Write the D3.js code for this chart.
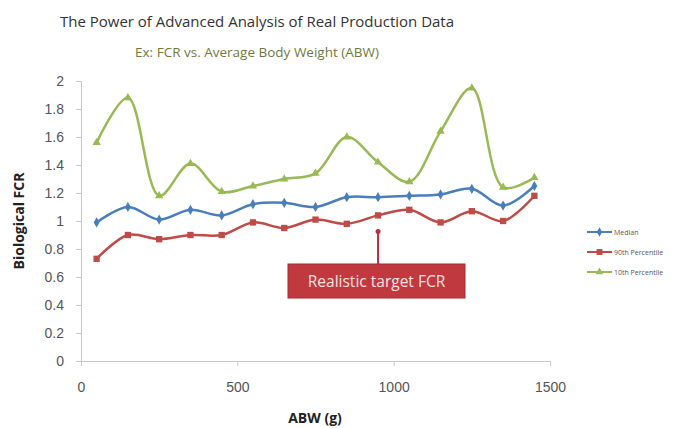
<!DOCTYPE html>
<html>
<head>
<meta charset="utf-8">
<script src="https://cdn.jsdelivr.net/npm/d3@7"></script>
<style>
  body { margin: 0; background: #fff; }
  svg { display: block; font-family: "Open Sans", "Liberation Sans", sans-serif; }
</style>
</head>
<body>
<svg id="chart"></svg>
<script>
// ABW values (g) for each point
const abw = [50, 150, 250, 350, 450, 550, 650, 750, 850, 950, 1050, 1150, 1250, 1350, 1450];

// FCR series
const median = [0.99, 1.10, 1.01, 1.08, 1.04, 1.12, 1.13, 1.10, 1.17, 1.17, 1.18, 1.19, 1.23, 1.11, 1.25];
const p90 = [0.73, 0.90, 0.87, 0.90, 0.90, 0.99, 0.95, 1.01, 0.98, 1.04, 1.08, 0.99, 1.07, 1.00, 1.18];
const p10 = [1.56, 1.88, 1.18, 1.41, 1.21, 1.25, 1.30, 1.34, 1.60, 1.42, 1.28, 1.64, 1.95, 1.24, 1.31];

const xTicks = [0, 500, 1000, 1500];
const yTicks = [0, 0.2, 0.4, 0.6, 0.8, 1, 1.2, 1.4, 1.6, 1.8, 2];

const seriesNames = ["Median", "90th Percentile", "10th Percentile"];
const seriesColors = ["#4a7ebb", "#be4b48", "#98b954"];
const seriesSymbols = [d3.symbolDiamond, d3.symbolSquare, d3.symbolTriangle];

const width = 684;
const height = 428;
const margin = { top: 81, right: 134, bottom: 67, left: 81 };

const svg = d3.select("#chart")
  .attr("width", width)
  .attr("height", height);

const xScale = d3.scaleLinear()
  .domain([0, 1500])
  .range([margin.left, width - margin.right]);

const yScale = d3.scaleLinear()
  .domain([0, 2])
  .range([height - margin.bottom, margin.top]);

// titles
svg.append("text")
  .attr("x", 257).attr("y", 27)
  .attr("text-anchor", "middle")
  .attr("font-size", 15)
  .attr("fill", "#333")
  .text("The Power of Advanced Analysis of Real Production Data");

svg.append("text")
  .attr("x", 257).attr("y", 57)
  .attr("text-anchor", "middle")
  .attr("font-size", 13.5)
  .attr("fill", "#6f7a3a")
  .text("Ex: FCR vs. Average Body Weight (ABW)");

// axes
const xAxis = svg.append("g")
  .attr("transform", `translate(0,${yScale(0)})`)
  .call(d3.axisBottom(xScale).tickValues(xTicks).tickSize(5).tickPadding(16).tickFormat(d3.format("d")));

const yAxis = svg.append("g")
  .attr("transform", `translate(${margin.left},0)`)
  .call(d3.axisLeft(yScale).tickValues(yTicks).tickSize(5).tickPadding(12).tickFormat(d => d3.format("~g")(d)));

[xAxis, yAxis].forEach(g => {
  g.select(".domain").attr("stroke", "#c8c8c8");
  g.selectAll(".tick line").attr("stroke", "#c8c8c8");
  g.selectAll(".tick text").attr("fill", "#555").attr("font-size", 14);
});

// axis titles
svg.append("text")
  .attr("transform", `translate(24,${yScale(1)}) rotate(-90)`)
  .attr("text-anchor", "middle")
  .attr("font-size", 14)
  .attr("font-weight", "bold")
  .attr("fill", "#222")
  .text("Biological FCR");

svg.append("text")
  .attr("x", 315).attr("y", 423)
  .attr("text-anchor", "middle")
  .attr("font-size", 14)
  .attr("font-weight", "bold")
  .attr("fill", "#222")
  .text("ABW (g)");

// series
const allSeries = [median, p90, p10];
const line = d3.line()
  .x((d, i) => xScale(abw[i]))
  .y(d => yScale(d))
  .curve(d3.curveCatmullRom.alpha(0.5));

// draw back to front so the green line sits behind
[2, 1, 0].forEach(s => {
  const vals = allSeries[s];
  svg.append("path")
    .datum(vals)
    .attr("fill", "none")
    .attr("stroke", seriesColors[s])
    .attr("stroke-width", 2.5)
    .attr("d", line);

  svg.selectAll(".dot" + s)
    .data(vals)
    .join("path")
    .attr("class", "dot" + s)
    .attr("transform", (d, i) => `translate(${xScale(abw[i])},${yScale(d)})`)
    .attr("d", d3.symbol().type(seriesSymbols[s]).size(s === 1 ? 40 : 30))
    .attr("fill", seriesColors[s]);
});

// annotation
const annX = xScale(950);
svg.append("line")
  .attr("x1", annX).attr("x2", annX)
  .attr("y1", yScale(0.925)).attr("y2", 264)
  .attr("stroke", "#b8303a")
  .attr("stroke-width", 2);
svg.append("circle")
  .attr("cx", annX).attr("cy", yScale(0.925))
  .attr("r", 2.5)
  .attr("fill", "#b8303a");

svg.append("rect")
  .attr("x", 288).attr("y", 264)
  .attr("width", 177).attr("height", 34)
  .attr("fill", "#c0393f")
  .attr("stroke", "#a82a30");

svg.append("text")
  .attr("x", 376.5).attr("y", 287)
  .attr("text-anchor", "middle")
  .attr("font-size", 15.5)
  .attr("fill", "#fbe3e3")
  .text("Realistic target FCR");

// legend
const legend = svg.append("g")
  .attr("transform", "translate(587,232)");

seriesNames.forEach((name, s) => {
  const row = legend.append("g").attr("transform", `translate(0,${s * 20})`);
  row.append("line")
    .attr("x1", 0).attr("x2", 25)
    .attr("stroke", seriesColors[s])
    .attr("stroke-width", 2);
  row.append("path")
    .attr("transform", "translate(12.5,0)")
    .attr("d", d3.symbol().type(seriesSymbols[s]).size(s === 1 ? 35 : 25))
    .attr("fill", seriesColors[s]);
  row.append("text")
    .attr("x", 27).attr("y", 2.5)
    .attr("font-size", 7)
    .attr("fill", "#555")
    .text(name);
});
</script>
</body>
</html>
